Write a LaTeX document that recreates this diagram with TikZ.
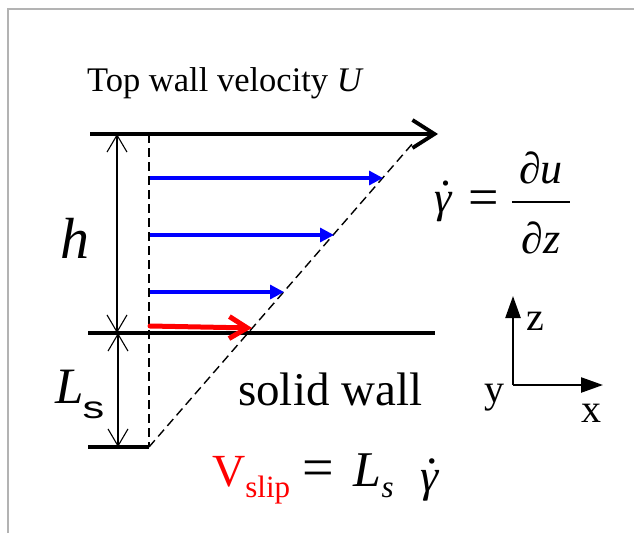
\documentclass[tikz,border=0pt]{standalone}
\usepackage{fontspec}
\setmainfont{Liberation Serif}
\setsansfont{Liberation Sans}
\usetikzlibrary{arrows.meta}
\definecolor{Frame}{HTML}{B3B3B3}
\definecolor{Flow}{HTML}{0000FF}
\definecolor{Slip}{HTML}{FF0000}
\newcommand{\gammadot}{\textit{γ}\llap{\upshape\raisebox{0.6em}{.}\kern0.03em}}
\tikzset{
    wall/.style={line width=3.8pt, color=black},
    guide/.style={line width=1.4pt, dash pattern=on 9pt off 5pt},
    dimarrow/.style={{Straight Barb[length=17pt, width=20pt]}-{Straight Barb[length=17pt, width=20pt]}, line width=1.1pt},
    flowarrow/.style={-{Triangle[length=14pt, width=14pt]}, line width=3.2pt, color=Flow},
    axisarrow/.style={-{Triangle[length=22pt, width=15pt]}, line width=2.4pt},
    label/.style={inner sep=0pt, anchor=base west},
}

\begin{document}
\begin{tikzpicture}[x=1pt, y=-1pt]
    \useasboundingbox (0,0) rectangle (634,533);

    % --- Cornice ---
    \draw[Frame, line width=2pt] (8,533) -- (8,9) -- (634,9);

    % --- Pareti ---
    \coordinate (topL) at (90,134);
    \coordinate (topR) at (438,134);
    \coordinate (wallL) at (88,333);
    \coordinate (wallR) at (435,333);
    \coordinate (slipL) at (88,447);
    \coordinate (slipO) at (149,447);
    \coordinate (dashT) at (149,134);
    \coordinate (profT) at (413,143);

    \draw[wall, -{Straight Barb[length=22pt, width=28pt]}] (topL) -- (topR);
    \draw[wall] (wallL) -- (wallR);
    \draw[wall] (slipL) -- (slipO);

    % Linee tratteggiate (asse e profilo)
    \draw[guide] (dashT) -- (slipO);
    \draw[guide] (slipO) -- (profT);

    % --- Quote h e Ls ---
    \draw[dimarrow] (117,134) -- (117,333);
    \draw[dimarrow] (118,333) -- (118,447);

    % --- Profilo di velocita ---
    \foreach \y/\x in {178/383, 235/334, 292/284}
        \draw[flowarrow] (150,\y) -- (\x,\y);
    \draw[Slip, line width=5pt, line cap=round, -{Straight Barb[length=18pt, width=22pt]}] (150,326) -- (252,328);

    % --- Testi ---
    \node[label, font=\fontsize{34.5}{40}\selectfont] (title) at (87,91) {Top wall velocity \textit{U}};
    \node[label, font=\fontsize{58}{64}\selectfont] (hlab) at (60,258) {\textit{h}};
    \node[label, font=\fontsize{51}{56}\selectfont] (lslab) at (55,403)
        {\textit{L}\kern-1pt\raisebox{-15pt}{\scalebox{1.4}[1]{\fontsize{31}{36}\sffamily s}}};
    \node[label, font=\fontsize{47}{52}\selectfont] (solid) at (238,405) {solid wall};
    \node[label, font=\fontsize{44}{50}\selectfont] (rate) at (434,212)
        {\gammadot\hspace{16pt}\raisebox{-3pt}{\fontsize{54}{60}\selectfont=}\hspace{13pt}%
         \makebox[0pt][l]{\raisebox{29pt}{\makebox[58pt]{\itshape ∂u}}}%
         \makebox[0pt][l]{\raisebox{9pt}{\rule{58pt}{2.2pt}}}%
         \raisebox{-41pt}{\makebox[58pt]{\itshape ∂z}}};
    \node[label, font=\fontsize{46}{52}\selectfont] (vslip) at (212,486)
        {{\color{Slip}V\raisebox{-11pt}{\fontsize{31}{36}\selectfont slip}}\hspace{12pt}{\fontsize{56}{60}\selectfont=}\hspace{20pt}%
         {\fontsize{50}{56}\selectfont\textit{L}}\raisebox{-11pt}{\fontsize{31}{36}\selectfont\itshape s}\hspace{27pt}\raisebox{-5pt}{\gammadot}};

    % --- Assi ---
    \coordinate (orig) at (513,385);
    \draw[axisarrow] (orig) -- (513,296);
    \draw[axisarrow] (orig) -- (603,385);
    \node[label, font=\fontsize{40}{44}\selectfont] (zlab) at (526,330) {z};
    \node[label, font=\fontsize{40}{44}\selectfont] (ylab) at (484,402) {y};
    \node[label, font=\fontsize{40}{44}\selectfont] (xlab) at (581,422) {x};
\end{tikzpicture}
\end{document}
